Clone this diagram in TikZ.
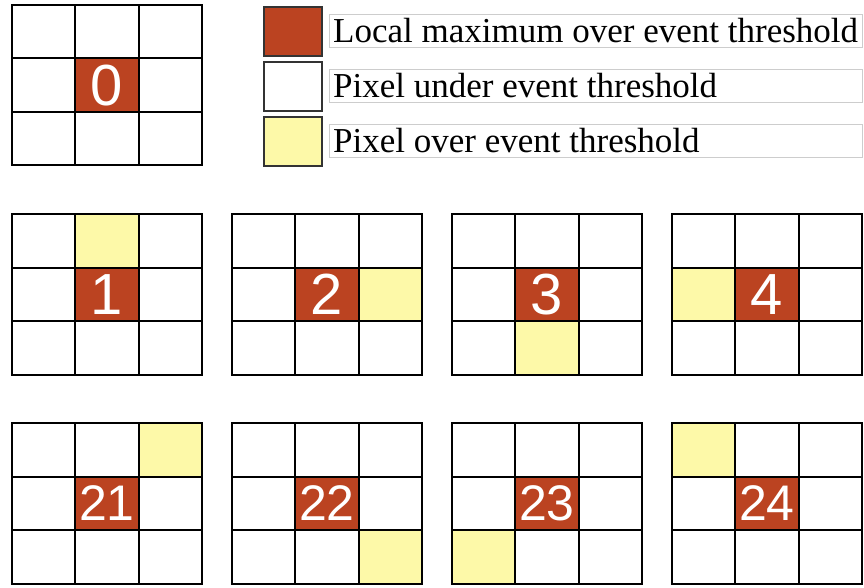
\documentclass[tikz,border=0pt]{standalone}
\usepackage{fontspec}
\setmainfont{Liberation Serif}
\newfontfamily\numfont{Liberation Sans}
\definecolor{maxred}{RGB}{187,67,33}
\definecolor{overyel}{RGB}{253,249,168}
\definecolor{boxgray}{RGB}{205,205,205}
\tikzset{
  cell/.style={draw=black, line width=2pt, fill=white, minimum width=63.3pt,
    minimum height=53.5pt, inner sep=0pt, outer sep=0pt, anchor=north west},
  maxcell/.style={cell, fill=maxred},
  overcell/.style={cell, fill=overyel},
  numone/.style={text=white, inner sep=0pt, font=\numfont\fontsize{58}{58}\selectfont},
  numtwo/.style={text=white, inner sep=0pt, font=\numfont\fontsize{50}{50}\selectfont},
  swatch/.style={draw=black!80, line width=2pt, minimum width=58pt, minimum height=49pt,
    inner sep=0pt, anchor=north west},
  legbox/.style={draw=boxgray, line width=1pt, minimum width=533pt, minimum height=33pt,
    inner sep=0pt, anchor=north west},
  legtext/.style={anchor=base west, inner sep=0pt, font=\fontsize{35}{35}\selectfont}
}
% #1 name, #2 x, #3 y, #4 label, #5 label style, #6 yellow column, #7 yellow row
\newcommand\pixgrid[7]{%
  \foreach \c in {0,1,2}{\foreach \r in {0,1,2}{
    \node[cell] (#1-\c\r) at ({#2+\c*63.3},{#3+\r*53.5}) {};
  }}
  \if\relax\detokenize{#6}\relax\else
    \node[overcell] (#1-over) at ({#2+#6*63.3},{#3+#7*53.5}) {};
  \fi
  \node[maxcell] (#1-max) at ({#2+63.3},{#3+53.5}) {};
  \node[#5] (#1-lab) at (#1-max.center) {#4};
}
\begin{document}
\begin{tikzpicture}[x=1pt,y=-1pt]
\useasboundingbox (0,0) rectangle (864,588);
% reference grid
\pixgrid{g0}{12}{5}{0}{numone}{}{}
% legend
\node[swatch, fill=maxred] (sw1) at (263,6) {};
\node[swatch, fill=white] (sw2) at (263,61) {};
\node[swatch, fill=overyel] (sw3) at (263,116) {};
\node[legbox] (lb1) at (329,14.5) {};
\node[legbox] (lb2) at (329,69.5) {};
\node[legbox] (lb3) at (329,124.5) {};
\node[legtext] (lt1) at (333,42.5) {Local maximum over event threshold};
\node[legtext] (lt2) at (333,97.5) {Pixel under event threshold};
\node[legtext] (lt3) at (333,152.5) {Pixel over event threshold};
% second row
\pixgrid{g1}{12}{214}{1}{numone}{1}{0}
\pixgrid{g2}{232}{214}{2}{numone}{2}{1}
\pixgrid{g3}{452}{214}{3}{numone}{1}{2}
\pixgrid{g4}{672}{214}{4}{numone}{0}{1}
% third row
\pixgrid{g21}{12}{423}{21}{numtwo}{2}{0}
\pixgrid{g22}{232}{423}{22}{numtwo}{2}{2}
\pixgrid{g23}{452}{423}{23}{numtwo}{0}{2}
\pixgrid{g24}{672}{423}{24}{numtwo}{0}{0}
\end{tikzpicture}
\end{document}
